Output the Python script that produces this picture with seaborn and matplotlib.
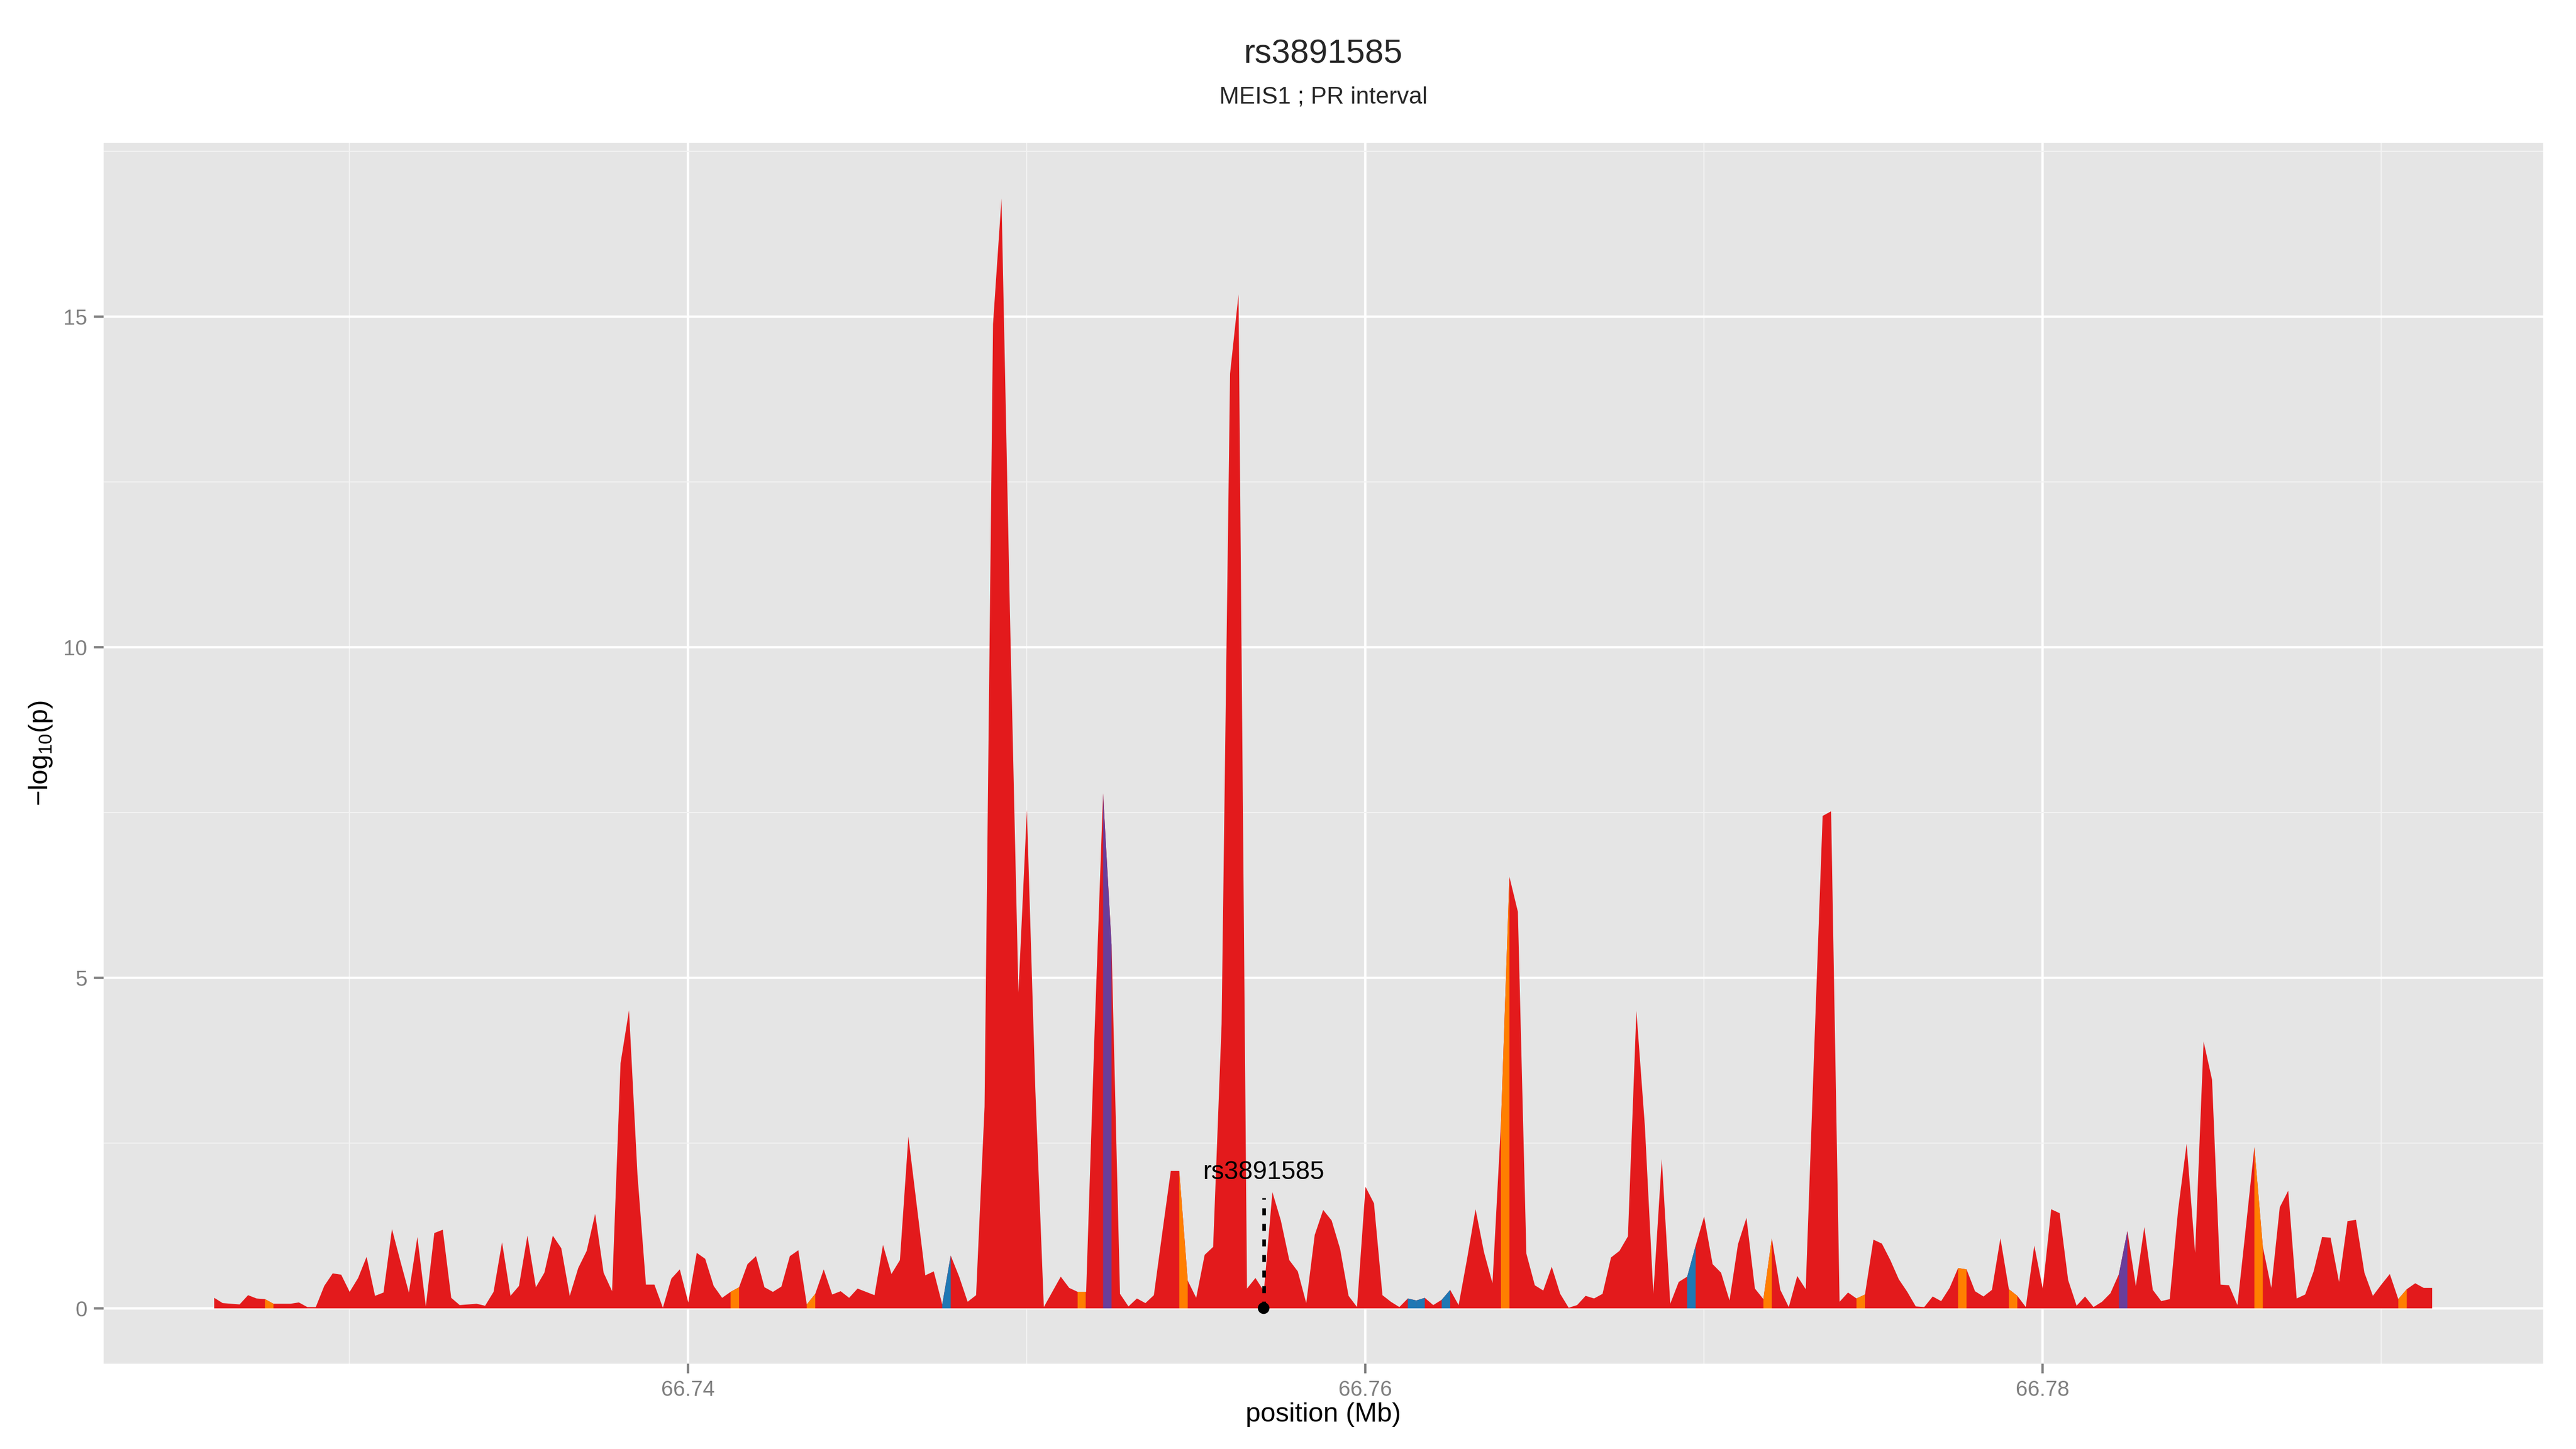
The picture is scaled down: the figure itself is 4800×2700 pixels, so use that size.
import numpy as np
import pandas as pd
import seaborn as sns
import matplotlib.pyplot as plt

# -log10(p) read at 250 bp steps, starting at 66.726 Mb
start_mb = 66.726
step_mb = 0.00025
logp = [
    0.16, 0.08, 0.07, 0.06, 0.20, 0.15, 0.14, 0.07, 0.07, 0.07,
    0.09, 0.02, 0.02, 0.34, 0.53, 0.51, 0.25, 0.46, 0.78, 0.19,
    0.24, 1.20, 0.71, 0.24, 1.08, 0.03, 1.14, 1.19, 0.16, 0.05,
    0.06, 0.07, 0.04, 0.25, 1.00, 0.19, 0.34, 1.10, 0.32, 0.54,
    1.10, 0.91, 0.19, 0.61, 0.87, 1.43, 0.54, 0.26, 3.71, 4.51,
    2.02, 0.36, 0.36, 0.01, 0.45, 0.59, 0.09, 0.84, 0.75, 0.34,
    0.16, 0.25, 0.32, 0.67, 0.79, 0.32, 0.25, 0.33, 0.79, 0.88,
    0.06, 0.22, 0.59, 0.21, 0.26, 0.16, 0.30, 0.25, 0.20, 0.96,
    0.52, 0.73, 2.60, 1.55, 0.50, 0.56, 0.06, 0.80, 0.48, 0.10,
    0.20, 3.05, 14.89, 16.79, 10.5, 4.78, 7.54, 3.30, 0.02, 0.25,
    0.48, 0.31, 0.25, 0.25, 4.20, 7.79, 5.50, 0.22, 0.03, 0.15,
    0.08, 0.20, 1.15, 2.08, 2.08, 0.42, 0.16, 0.81, 0.93, 4.30,
    14.14, 15.34, 0.30, 0.46, 0.26, 1.76, 1.33, 0.73, 0.56, 0.08,
    1.11, 1.49, 1.33, 0.90, 0.19, 0.02, 1.84, 1.59, 0.20, 0.10,
    0.02, 0.15, 0.12, 0.16, 0.05, 0.13, 0.28, 0.05, 0.75, 1.50,
    0.85, 0.38, 2.80, 6.53, 6.00, 0.83, 0.35, 0.27, 0.63, 0.22,
    0.01, 0.05, 0.19, 0.15, 0.22, 0.77, 0.87, 1.09, 4.50, 2.76,
    0.22, 2.26, 0.07, 0.40, 0.48, 0.95, 1.39, 0.67, 0.54, 0.12,
    0.97, 1.37, 0.30, 0.14, 1.06, 0.28, 0.02, 0.49, 0.29, 3.90,
    7.45, 7.52, 0.10, 0.24, 0.15, 0.21, 1.04, 0.98, 0.73, 0.44,
    0.25, 0.03, 0.02, 0.18, 0.11, 0.31, 0.61, 0.59, 0.26, 0.18,
    0.28, 1.06, 0.29, 0.19, 0.02, 0.95, 0.30, 1.50, 1.44, 0.43,
    0.04, 0.18, 0.02, 0.10, 0.23, 0.52, 1.17, 0.34, 1.23, 0.28,
    0.11, 0.14, 1.50, 2.49, 0.84, 4.04, 3.46, 0.36, 0.35, 0.05,
    1.23, 2.44, 0.93, 0.31, 1.53, 1.78, 0.15, 0.21, 0.56, 1.08,
    1.07, 0.40, 1.32, 1.34, 0.54, 0.19, 0.36, 0.52, 0.14, 0.29,
    0.38, 0.31, 0.31,
]

# steps (index of left point) drawn in another colour than red
orange_steps = [6, 61, 70, 102, 114, 152, 183, 194, 206, 212, 241, 258]
blue_steps = [86, 141, 142, 145, 174]
purple_steps = [105, 225]

lead_snp = 'rs3891585'
lead_pos = 66.757
lead_line_top = 1.665
lead_label_y = 1.95
title = 'rs3891585'
subtitle = 'MEIS1 ; PR interval'
x_breaks = [66.74, 66.76, 66.78]
x_minor = [66.73, 66.75, 66.77, 66.79]
y_breaks = [0, 5, 10, 15]
y_minor = [2.5, 7.5, 12.5, 17.5]

df = pd.DataFrame({'pos': start_mb + step_mb * np.arange(len(logp)), 'logp': logp})
pos = df['pos'].values
val = df['logp'].values

sns.set_theme(style='darkgrid', rc={
    'axes.facecolor': '#E5E5E5',
    'figure.facecolor': 'white',
    'grid.color': 'white',
})
plt.rcParams['font.family'] = ['Liberation Sans', 'DejaVu Sans']
plt.rcParams['mathtext.default'] = 'regular'

panel = [0.0402, 0.0589, 0.9471, 0.8426]
fig = plt.figure(figsize=(16, 9), dpi=300)
ax = fig.add_axes(panel)

# area, red everywhere then the other classes step by step
ax.fill_between(pos, 0, val, color='#E31A1C', lw=0, zorder=2)
for col, steps in [('#FF7F00', orange_steps), ('#1F78B4', blue_steps), ('#6A3D9A', purple_steps)]:
    for i in steps:
        ax.fill_between(pos[i:i + 2], 0, val[i:i + 2], color=col, lw=0, zorder=3)

# lead snp
ax.plot([lead_pos, lead_pos], [0, lead_line_top], color='black', lw=1.6,
        ls=(0, (1.95, 2.4)), zorder=4)
sns.scatterplot(x=[lead_pos], y=[0], color='black', s=27, edgecolor='none',
                zorder=5, ax=ax, legend=False)
ax.text(lead_pos, lead_label_y, lead_snp, ha='center', va='baseline',
        fontsize=11.5, color='black', zorder=5)

ax.set_xlim(66.72274, 66.79479)
ax.set_ylim(-0.84, 17.63)
ax.set_xticks(x_breaks, labels=[f'{b:.2f}' for b in x_breaks])
ax.set_yticks(y_breaks, labels=[str(b) for b in y_breaks])
ax.set_xticks(x_minor, minor=True)
ax.set_yticks(y_minor, minor=True)
ax.grid(which='major', color='white', lw=1.07)
ax.grid(which='minor', color='#F2F2F2', lw=0.53)
ax.set_axisbelow(True)
for s in ax.spines.values():
    s.set_visible(False)
ax.tick_params(which='major', length=4.25, width=1.07, color='#7F7F7F',
               labelcolor='#7F7F7F', labelsize=9.6, pad=3,
               bottom=True, left=True)
ax.tick_params(which='minor', length=0)

ax.set_xlabel('position (Mb)', fontsize=12, color='black')
ax.set_ylabel(r'$-log_{10}(p)$', fontsize=12, color='black')
ax.xaxis.set_label_coords(0.5, -0.0418)
ax.xaxis.label.set_va('center')
ax.yaxis.set_label_coords(-0.0257, 0.5)
ax.yaxis.label.set_va('center')

# titles centred over the panel, like ggplot
cx = panel[0] + panel[2] / 2
fig.text(cx, 0.9626, title, ha='center', va='center', fontsize=15)
fig.text(cx, 0.933, subtitle, ha='center', va='center', fontsize=10.7)

fig.savefig('out.png', dpi=300)
